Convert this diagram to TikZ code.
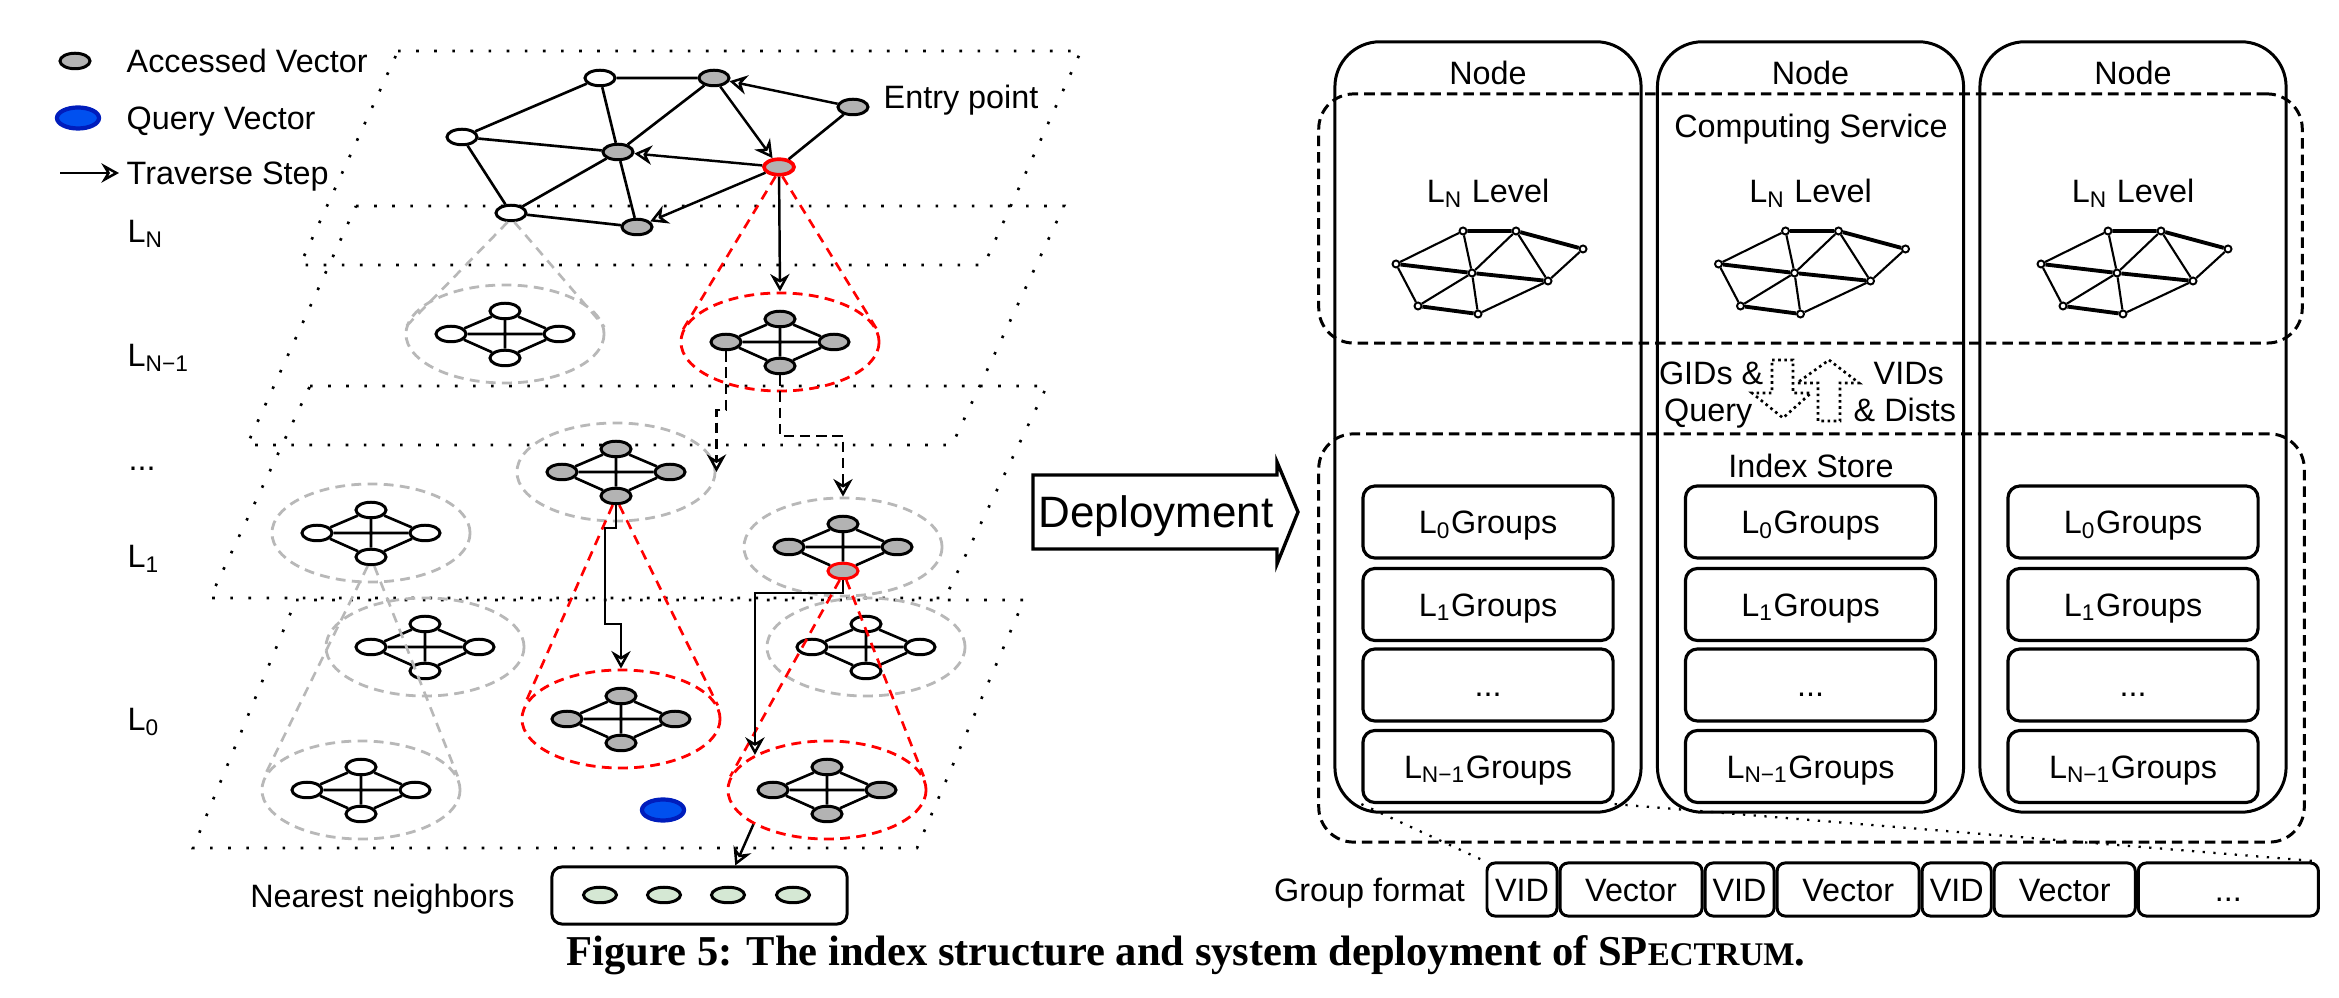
\documentclass[tikz,border=0pt]{standalone}
\usepackage{fontspec}
\setmainfont{Liberation Sans}
\newfontfamily\capfont{Liberation Serif}
\usepackage{xcolor}
\usetikzlibrary{arrows.meta, positioning, shapes.geometric}
\definecolor{vgray}{HTML}{B3B3B3}
\definecolor{ringgray}{HTML}{B8B8B8}
\definecolor{qblue}{HTML}{0050EF}
\definecolor{qborder}{HTML}{001DBC}
\definecolor{nngreen}{HTML}{D5E8D4}

\begin{document}
\begin{tikzpicture}[x=0.01cm, y=-0.01cm, >={Stealth[open, length=5pt, width=5.5pt]}, font=\fontsize{9.2}{11}\selectfont]
    \tikzstyle{vec} = [draw, ellipse, line width=0.85pt, minimum width=0.30cm, minimum height=0.155cm, inner sep=0pt]
    \tikzstyle{mini} = [draw, circle, fill=white, line width=0.55pt, minimum size=0.07cm, inner sep=0pt]
    \tikzstyle{ring} = [draw=ringgray, ellipse, line width=0.8pt, dash pattern=on 2.8pt off 1.8pt, minimum width=1.98cm, minimum height=0.98cm, inner sep=0pt]
    \tikzstyle{redring} = [ring, draw=red]
    \tikzstyle{plane} = [line width=0.75pt, dash pattern=on 0.75pt off 4.4pt]
    \tikzstyle{link} = [line width=0.75pt]
    \tikzstyle{trav} = [->, line width=0.7pt]
    \tikzstyle{hop} = [trav, dash pattern=on 3pt off 1.6pt]
    \tikzstyle{graycone} = [draw=ringgray, line width=0.75pt, dash pattern=on 2.8pt off 2pt]
    \tikzstyle{redcone} = [graycone, draw=red]
    \tikzstyle{lbl} = [inner sep=0pt, text height=0.232cm, text depth=0pt]
    \tikzstyle{nodebox} = [draw, line width=0.85pt, rounded corners=0.45cm, minimum width=3.06cm, minimum height=7.70cm]
    \tikzstyle{svcbox} = [draw, line width=0.85pt, rounded corners=0.35cm, dash pattern=on 3pt off 1.7pt]
    \tikzstyle{grpbox} = [draw, line width=0.9pt, rounded corners=0.12cm, minimum width=2.5cm, minimum height=0.72cm, inner sep=0pt, text height=0.232cm, text depth=0pt]
    \tikzstyle{cell} = [draw, line width=0.85pt, rounded corners=0.08cm, minimum height=0.53cm, inner sep=0pt, text height=0.232cm, text depth=0pt]
    \tikzstyle{fmtline} = [line width=0.65pt, dash pattern=on 0.65pt off 2.4pt]
    \tikzstyle{commarrow} = [line width=0.75pt, dash pattern=on 0.75pt off 1pt]
    \useasboundingbox (0,0) rectangle (2339,998);

    % levels
    \draw[plane] (398,51) -- (1081,51) -- (984,265) -- (300,265) -- cycle;
    \draw[plane] (356,206) -- (1064,206) -- (952,445) -- (247,445) -- cycle;
    \draw[plane] (310,386) -- (1047,386) -- (945,598) -- (210,598) -- cycle;
    \draw[plane] (296,600) -- (1024,600) -- (917,848) -- (193,848) -- cycle;
    \node[lbl, anchor=west] at (127,231) {L\textsubscript{N}};
    \node[lbl, anchor=west] at (127,355) {L\textsubscript{N−1}};
    \node[lbl, anchor=west] at (128,459) {...};
    \node[lbl, anchor=west] at (127,556) {L\textsubscript{1}};
    \node[lbl, anchor=west] at (127,719) {L\textsubscript{0}};

    % legend
    \node[vec, fill=vgray] (legacc) at (75,61) {};
    \node[lbl, anchor=west] at (126,61) {Accessed Vector};
    \node[vec, fill=qblue, draw=qborder, line width=1.2pt, minimum width=0.42cm, minimum height=0.21cm] (legq) at (78,118) {};
    \node[lbl, anchor=west] at (126,118) {Query Vector};
    \coordinate (legs) at (60,173);
    \coordinate (lege) at (119,173);
    \draw[trav] (legs) -- (lege);
    \node[lbl, anchor=west] at (126,173) {Traverse Step};

    % top level graph
    \node[vec, fill=white] (wa) at (600,78) {};
    \node[vec, fill=vgray] (gb) at (714,78) {};
    \node[vec, fill=vgray] (entry) at (853,107) {};
    \node[vec, fill=white] (wd) at (462,137) {};
    \node[vec, fill=vgray] (ge) at (618,152) {};
    \node[vec, fill=vgray, draw=red, line width=1.05pt] (best) at (779,167) {};
    \node[vec, fill=white] (wg) at (511,213) {};
    \node[vec, fill=vgray] (gh) at (637,227) {};
    \node[lbl, anchor=west] at (883,97) {Entry point};
    \draw[link] (wa) -- (gb) (wa) -- (wd) (wa) -- (ge) (gb) -- (ge) (wd) -- (ge) (wd) -- (wg) (wg) -- (ge) (ge) -- (gh) (wg) -- (gh) (entry) -- (best);
    \draw[trav] (entry) -- (gb);
    \draw[trav] (gb) -- (best);
    \draw[trav] (best) -- (ge);
    \draw[trav] (best) -- (gh);

    % groups in the lower levels
    \foreach \nm/\cx/\cy/\fc/\bc/\rs in {cA/505/334/white/black/ring, cB/780/342/vgray/black/redring,
        cC/371/533/white/black/ring, cD/616/472/vgray/black/ring, cE/843/547/vgray/red/ring,
        cF/425/647/white/black/ring, cG/361/790/white/black/ring, cH/621/719/vgray/black/redring,
        cI/866/647/white/black/ring, cJ/827/790/vgray/black/redring} {
        \node[\rs] (\nm) at (\cx,\cy) {};
        \node[vec, fill=\fc] (\nm-t) at (\cx,\cy-23) {};
        \node[vec, fill=\fc] (\nm-l) at (\cx-54,\cy) {};
        \node[vec, fill=\fc] (\nm-r) at (\cx+54,\cy) {};
        \node[vec, fill=\fc, draw=\bc] (\nm-b) at (\cx,\cy+24) {};
        \draw[link] (\nm-t) -- (\nm-l) -- (\nm-b) -- (\nm-r) -- (\nm-t) (\nm-t) -- (\nm-b) (\nm-l) -- (\nm-r);
    }
    \node[vec, fill=qblue, draw=qborder, line width=1.2pt, minimum width=0.42cm, minimum height=0.21cm] (query) at (663,810) {};

    % cones
    \draw[graycone] (wg.250) -- (cA.176) (wg.290) -- (cA.4);
    \draw[redcone] (best.250) -- (cB.174) (best.290) -- (cB.6);
    \draw[graycone] (cC-b.250) -- (cG.172) (cC-b.290) -- (cG.8);
    \draw[redcone] (cD-b.250) -- (cH.172) (cD-b.290) -- (cH.8);
    \draw[redcone] (cE-b.250) -- (cJ.172) (cE-b.290) -- (cJ.8);

    % nearest neighbors
    \node[draw, rounded corners=0.1cm, line width=0.85pt, minimum width=2.95cm, minimum height=0.57cm] (nn) at (699.5,895.5) {};
    \foreach \i/\gx in {1/600, 2/664, 3/728, 4/793}
        \node[vec, fill=nngreen, minimum width=0.33cm, minimum height=0.155cm] (nn\i) at (\gx,895) {};
    \node[lbl, left=0.35cm of nn] {Nearest neighbors};

    % search path
    \draw[trav] (best) -- (cB.north);
    \draw[hop] (cB-l.south) -- ++(0,59) -| (cD.east);
    \draw[hop] (cB-b.south) -- ++(0,61) -| (cE.north);
    \draw[trav] (cD-b.south) -- ++(0,23) -- ++(-11,0) -- ++(0,96) -| (cH.north);
    \draw[trav] (cE-b.south) -- ++(0,13) -| (cJ.154);
    \draw[trav] (cJ.205) -- (nn.40);

    % deployment
    \node[inner sep=0pt, text height=0.315cm, text depth=0pt, font=\fontsize{12.5}{14}\selectfont] (deploy) at (1156,512) {Deployment};
    \draw[line width=0.95pt] (1033,475) -- (1277,475) -- (1277,462) -- (1298,512) -- (1277,564) -- (1277,549) -- (1033,549) -- cycle;

    \foreach \col/\cx in {1/1488, 2/1810.5, 3/2133} {
        \node[nodebox] (node\col) at (\cx,427) {};
        \node[lbl] at (\cx,73) {Node};
        \node[lbl] at (\cx,191) {L\textsubscript{N} Level};
        \foreach \k/\dx/\dy in {1/-25/231, 2/28/231, 3/95/249, 4/-92/264, 5/-16/273, 6/60/281, 7/-70/306, 8/-10/314}
            \node[mini] (m\col-\k) at (\cx+\dx,\dy) {};
        \draw[line width=1.1pt] (m\col-1) -- (m\col-2) -- (m\col-3) (m\col-4) -- (m\col-5) -- (m\col-6) (m\col-7) -- (m\col-8);
        \draw[line width=0.6pt] (m\col-3) -- (m\col-6) (m\col-1) -- (m\col-4) (m\col-1) -- (m\col-5) (m\col-2) -- (m\col-5) (m\col-2) -- (m\col-6) (m\col-4) -- (m\col-7) (m\col-5) -- (m\col-7) (m\col-5) -- (m\col-8) (m\col-6) -- (m\col-8);
        \foreach \r/\gy/\gt in {1/522/{L\textsubscript{0}Groups}, 2/604.5/{L\textsubscript{1}Groups}, 3/685/{...}, 4/766.5/{L\textsubscript{N−1}Groups}}
            \node[grpbox] (g\col-\r) at (\cx,\gy) {\gt};
    }
    \node[svcbox, minimum width=9.83cm, minimum height=2.49cm] (compute) at (1810.5,218.5) {};
    \node[lbl] at (1811,126) {Computing Service};
    \node[svcbox, minimum width=9.85cm, minimum height=4.08cm] (store) at (1811.5,638) {};
    \node[lbl] at (1811,466) {Index Store};

    % exchange between the two services
    \draw[commarrow] (1772,360) -- (1793,360) -- (1793,393) -- (1811,393) -- (1783,418) -- (1752,393) -- (1772,393) -- cycle;
    \draw[commarrow] (1829,360) -- (1859,383) -- (1840,383) -- (1840,421) -- (1818,421) -- (1818,383) -- (1797,383) -- cycle;
    \node[lbl, anchor=east] at (1764,373) {GIDs \&};
    \node[lbl, anchor=east] at (1753,410) {Query};
    \node[lbl, anchor=west] at (1873,373) {VIDs};
    \node[lbl, anchor=west] at (1853,410) {\& Dists};

    % group format
    \node[cell, minimum width=0.70cm] (f1) at (1522,889.5) {VID};
    \node[cell, minimum width=1.42cm, right=0pt of f1] (f2) {Vector};
    \node[cell, minimum width=0.69cm, right=0pt of f2] (f3) {VID};
    \node[cell, minimum width=1.42cm, right=0pt of f3] (f4) {Vector};
    \node[cell, minimum width=0.69cm, right=0pt of f4] (f5) {VID};
    \node[cell, minimum width=1.41cm, right=0pt of f5] (f6) {Vector};
    \node[cell, minimum width=1.80cm, right=0pt of f6] (f7) {...};
    \node[lbl, left=0.2cm of f1] {Group format};
    \draw[fmtline] (g1-4.south west) -- (f1.north west);
    \draw[fmtline] (g1-4.south east) -- (f7.north east);

    \node[font={\capfont\bfseries\fontsize{12.1}{14}\selectfont}] (caption) at (1186,955) {Figure 5: The index structure and system deployment of SP{\fontsize{9.4}{11}\selectfont ECTRUM}.};
\end{tikzpicture}
\end{document}
